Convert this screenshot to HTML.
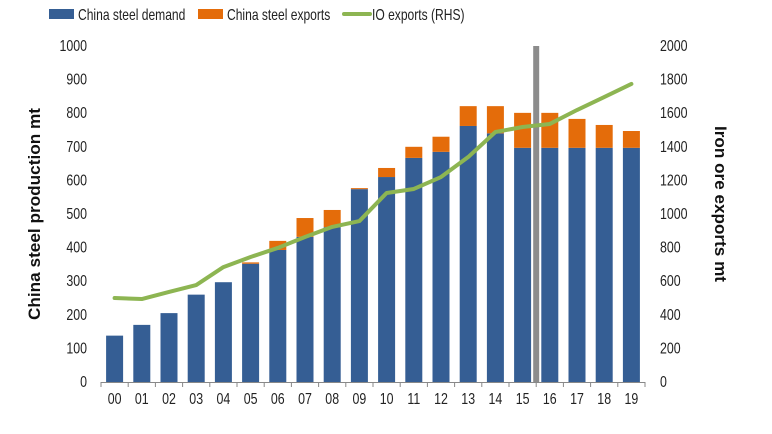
<!DOCTYPE html>
<html><head><meta charset="utf-8"><style>
html,body{margin:0;padding:0;background:#fff;}
svg{display:block;font-family:"Liberation Sans",Arial,sans-serif;}
</style></head><body>
<svg id="chart" width="772" height="434" viewBox="0 0 772 434">
  <g id="legend">
    <g>
      <rect x="49" y="9" width="25" height="10" fill="#355E94"/>
      <text transform="translate(78,20) scale(0.78,1)" font-size="15.5" fill="#222">China steel demand</text>
    </g>
    <g>
      <rect x="198" y="9" width="25" height="10" fill="#E46C0A"/>
      <text transform="translate(227,20) scale(0.78,1)" font-size="15.5" fill="#222">China steel exports</text>
    </g>
    <g>
      <line x1="344" y1="14" x2="370" y2="14" stroke="#8DB552" stroke-width="4" stroke-linecap="round"/>
      <text transform="translate(372,20) scale(0.78,1)" font-size="15.5" fill="#222">IO exports (RHS)</text>
    </g>
  </g>
  <text transform="translate(40,214) rotate(-90)" text-anchor="middle" font-size="16.5" font-weight="bold" fill="#111" textLength="212" lengthAdjust="spacingAndGlyphs">China steel production mt</text>
  <text transform="translate(715,204) rotate(90)" text-anchor="middle" font-size="16.5" font-weight="bold" fill="#111" textLength="156" lengthAdjust="spacingAndGlyphs">Iron ore exports mt</text>
  <g id="plot"></g>
</svg>
<script>
const categories=["00","01","02","03","04","05","06","07","08","09","10","11","12","13","14","15","16","17","18","19"];
const steelDemand=[138,170,205,260,297,352,393,432,461,574,610,667,685,762,740,697,697,697,697,697];
const steelExports=[0,0,0,0,0,4,27,56,51,3,27,33,45,59,81,104,104,86,68,50];
const ioExports=[500,494,536,577,684,744,798,863,923,958,1125,1149,1220,1339,1488,1518,1536,1619,1696,1774];
const leftTicks=[0,100,200,300,400,500,600,700,800,900,1000];
const rightTicks=[0,200,400,600,800,1000,1200,1400,1600,1800,2000];

const NS="http://www.w3.org/2000/svg";
const plot=document.getElementById('plot');
const x0=101, x1=645, yBase=382, yTop=46;
const step=(x1-x0)/categories.length;
const xC=i=>x0+step*(i+0.5);
const yL=v=>yBase-(v/1000)*(yBase-yTop);
const yR=v=>yBase-(v/2000)*(yBase-yTop);
function mk(tag,attrs){const e=document.createElementNS(NS,tag);for(const k in attrs)e.setAttribute(k,attrs[k]);plot.appendChild(e);return e;}
function txt(s,x,y,anchor){const t=mk('text',{transform:`translate(${x},${y}) scale(0.8,1)`,'font-size':'15.5','text-anchor':anchor,fill:'#222'});t.textContent=s;return t;}

leftTicks.forEach(v=>{const t=txt(String(v),87,yL(v)+5,'end');

});
rightTicks.forEach(v=>{const t=txt(String(v),660,yR(v)+5,'start');

});

const bw=17;
categories.forEach((c,i)=>{
  const b=mk('rect',{x:xC(i)-bw/2,y:yL(steelDemand[i]),width:bw,height:yBase-yL(steelDemand[i]),fill:'#355E94'});
  
  
  const top=steelDemand[i]+steelExports[i];
  const e=mk('rect',{x:xC(i)-bw/2,y:yL(top),width:bw,height:yL(steelDemand[i])-yL(top),fill:'#E46C0A'});
  
  
  const l=txt(c,xC(i),404,'middle');
  
  
});

const ax=mk('line',{x1:x0,y1:yBase+0.5,x2:x1,y2:yBase+0.5,stroke:'#888','stroke-width':1});


for(let i=0;i<=categories.length;i++){
  const t=mk('line',{x1:x0+step*i,y1:yBase,x2:x0+step*i,y2:yBase+5,stroke:'#888','stroke-width':1});
  
  
}

const divider=mk('rect',{x:x0+step*16-3,y:yTop,width:6,height:yBase-yTop,fill:'#8C8C8C'});



const pts=ioExports.map((v,i)=>xC(i)+','+yR(v)).join(' ');
const line=mk('polyline',{points:pts,fill:'none',stroke:'#8DB552','stroke-width':4,'stroke-linejoin':'round','stroke-linecap':'round'});


</script>
</body></html>
